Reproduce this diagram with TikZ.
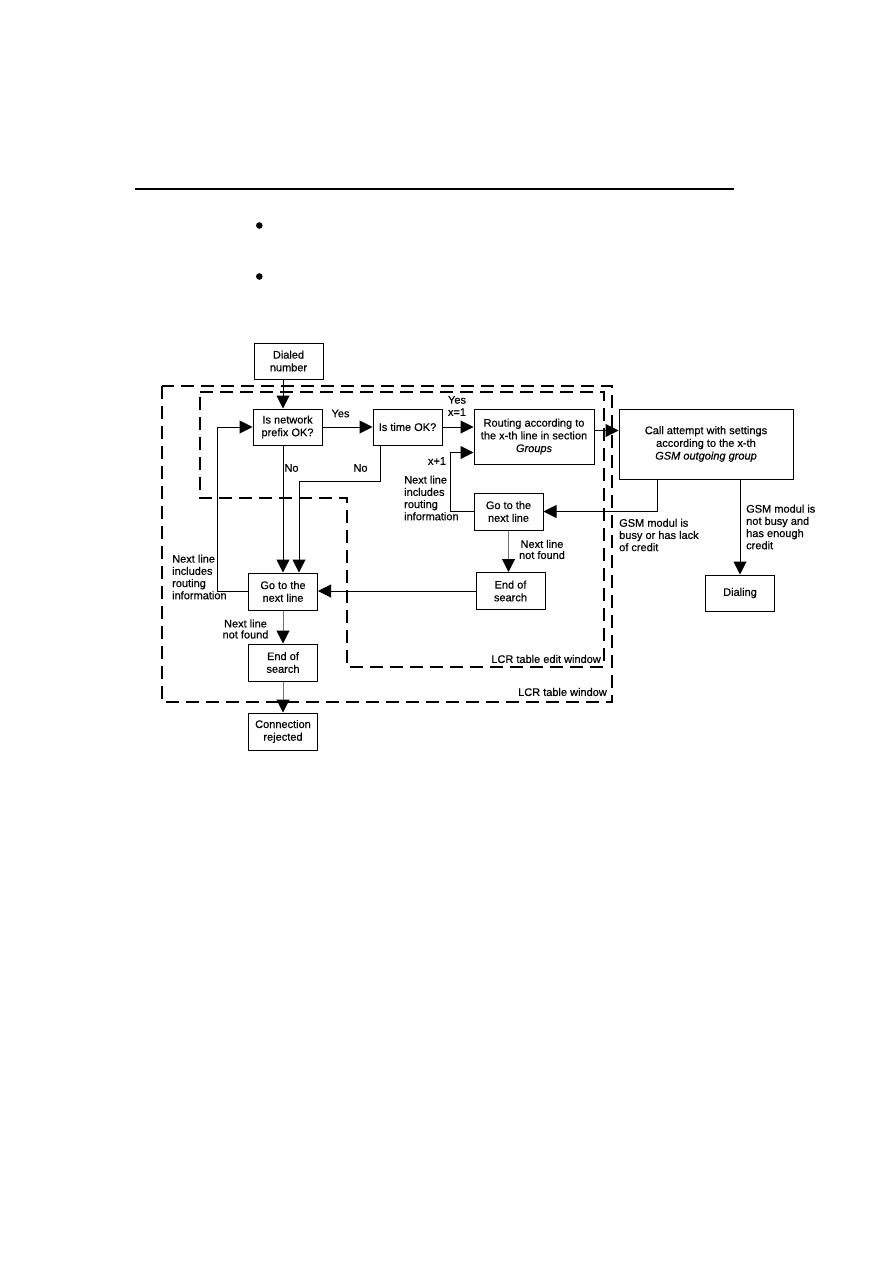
\documentclass[tikz,border=0pt]{standalone}
\usepackage{fontspec}
\setmainfont{Liberation Sans}[FakeBold=0.45]
\usetikzlibrary{arrows.meta, positioning, calc}

\begin{document}
\begin{tikzpicture}[x=1pt, y=-1pt,
    base/.style={draw, line width=1pt, align=center, inner sep=1pt, font=\fontsize{11}{12.7}\selectfont},
    stepbox/.style={base, minimum width=69pt, minimum height=36pt},
    lbl/.style={font=\fontsize{11}{12.2}\selectfont, inner sep=0pt},
    arr/.style={-{Triangle[length=13pt, width=13pt]}, line width=1pt},
    gline/.style={draw=black!55, -{Triangle[length=13pt, width=13pt, color=black]}, line width=1pt},
    frame/.style={dash pattern=on 13pt off 7pt, line width=1.1pt}]

    \useasboundingbox (0,0) rectangle (893,1263);

    % Page header
    \draw[line width=1.2pt] (135,189) -- (734,189);
    \fill (259.3,225.5) circle (3.3pt);
    \fill (259.3,276.5) circle (3.3pt);

    % Windows
    \draw[frame] (162,386) rectangle (612,702);
    \draw[frame] (200,392) -- (604,392) -- (604,667) -- (347,667) -- (347,498) -- (200,498) -- cycle;
    \node[lbl, anchor=east] (editwin) at (601,659) {LCR table edit window};
    \node[lbl, anchor=east] (tablewin) at (607,692) {LCR table window};

    % Nodes
    \node[stepbox] (dialed) at (288.5,361) {Dialed\\number};
    \node[stepbox] (prefix) at (287.5,427) {Is network\\prefix OK?};
    \node[stepbox, right=50pt of prefix] (timeok) {Is time OK?};
    \node[base, minimum width=120pt, minimum height=55pt] (routing) at (534,436.5) {Routing according to\\the x-th line in section\\\textit{Groups}};
    \node[base, minimum width=174pt, minimum height=70pt] (callatt) at (706,444) {Call attempt with settings\\according to the x-th\\\textit{GSM outgoing group}};
    \node[stepbox, minimum height=37pt] (nextR) at (508.5,511.5) {Go to the\\next line};
    \node[stepbox, minimum height=37pt] (endR) at (510.5,591) {End of\\search};
    \node[stepbox] (dialing) at (740,593) {Dialing};
    \node[stepbox, minimum height=37pt] (nextL) at (283,591.5) {Go to the\\next line};
    \node[stepbox, minimum height=37pt, below=33pt of nextL] (endL) {End of\\search};
    \node[stepbox, minimum height=37pt, below=31pt of endL] (rejected) {Connection\\rejected};

    % Labels
    \node[lbl] (yesA) at (340.5,413.5) {Yes};
    \node[lbl, align=center] (yesB) at (457,406) {Yes\\x=1};
    \node[lbl] (noA) at (291.5,468) {No};
    \node[lbl] (noB) at (360.5,468) {No};
    \node[lbl] (xplus) at (437,461) {x+1};
    \node[lbl, align=left, anchor=west] (infoR) at (404,498) {Next line\\includes\\routing\\information};
    \node[lbl, align=left, anchor=west] (infoL) at (172,577) {Next line\\includes\\routing\\information};
    \node[lbl, align=center, font=\fontsize{11}{11}\selectfont] (notfL) at (245.5,629) {Next line\\not found};
    \node[lbl, align=center, font=\fontsize{11}{11}\selectfont] (notfR) at (542,549.5) {Next line\\not found};
    \node[lbl, align=left, anchor=west] (busy) at (619,535) {GSM modul is\\busy or has lack\\of credit};
    \node[lbl, align=left, anchor=west] (free) at (746,527) {GSM modul is\\not busy and\\has enough\\credit};

    % Connectors
    \draw[arr] (dialed.south -| nextL.north) -- (prefix.north -| nextL.north);
    \draw[arr] (prefix) -- (timeok);
    \draw[arr] (timeok.east) -- (timeok.east -| routing.west);
    \draw[arr] ([yshift=6pt]routing.east) -- ([yshift=6pt]routing.east -| callatt.west);
    \draw[arr] (prefix.south -| nextL.north) -- (nextL.north);
    \draw[arr] ([xshift=-27.5pt]timeok.south) -- ++(0,36) -| ([xshift=16pt]nextL.north);
    \draw[arr] (nextL.west) -- ++(-30.5,0) |- (prefix.west);
    \draw[arr] (endR.west) -- (endR.west -| nextL.east);
    \draw[arr] ([xshift=-49pt]callatt.south) |- (nextR.east);
    \draw[arr] (nextR.west) -- ++(-23.5,0) |- ([yshift=-16pt]routing.west);
    \draw[gline] (nextR.south) -- (nextR.south |- endR.north);
    \draw[gline] (nextL) -- (endL);
    \draw[gline] (endL) -- (rejected);
    \draw[arr] (callatt.south -| dialing.north) -- (dialing.north);
\end{tikzpicture}
\end{document}
